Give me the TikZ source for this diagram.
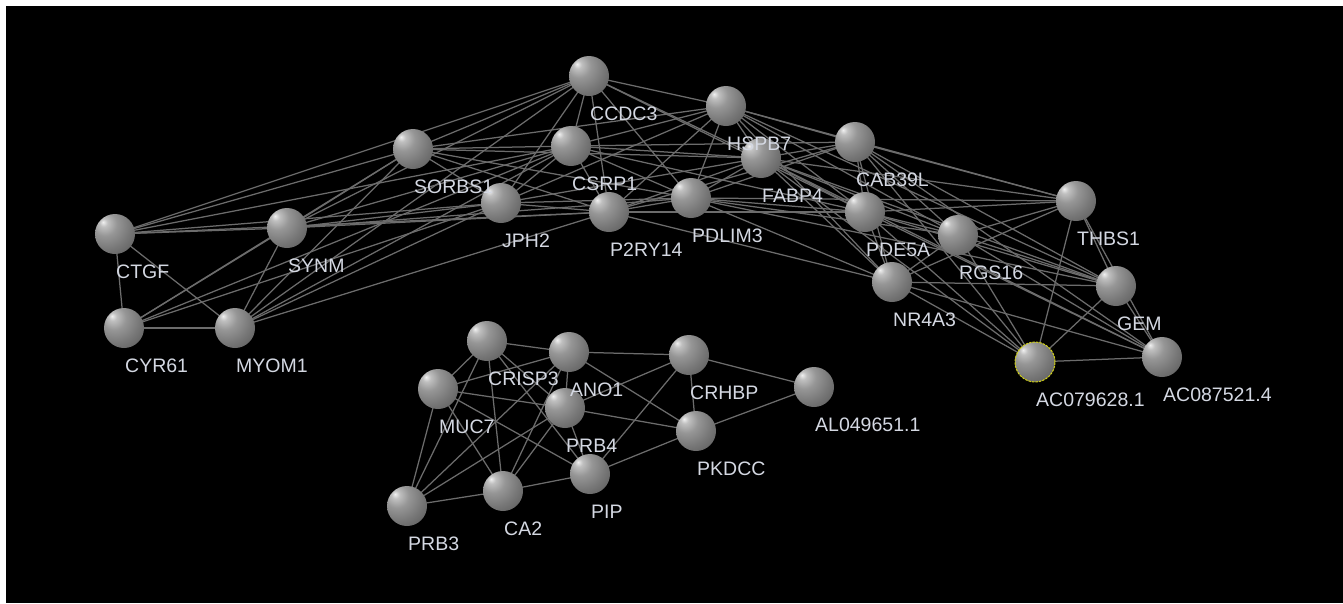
\documentclass[tikz,border=0pt]{standalone}
\usepackage{fontspec}
\setmainfont{Liberation Sans}
\pgfdeclarelayer{bg}
\pgfdeclarelayer{edges}
\pgfsetlayers{bg,edges,main}
\definecolor{hl}{RGB}{240,240,240}
\definecolor{sa}{RGB}{192,192,192}
\definecolor{sb}{RGB}{150,150,150}
\definecolor{sc}{RGB}{118,118,118}
\definecolor{sd}{RGB}{88,88,88}
\definecolor{se}{RGB}{58,58,58}
\definecolor{edgegray}{RGB}{108,108,108}
\definecolor{labelcol}{RGB}{212,216,226}
\definecolor{selyellow}{RGB}{210,210,20}
\pgfdeclareradialshading{sphere}{\pgfpoint{-15bp}{15bp}}{%
  color(0bp)=(hl); color(5bp)=(sa); color(15bp)=(sb);
  color(30bp)=(sc); color(46bp)=(sd); color(62bp)=(se); color(100bp)=(se)}
\tikzset{
  gene/.style={circle, minimum size=40pt, inner sep=0pt, shading=sphere},
  lbl/.style={anchor=base west, inner sep=0pt, text=labelcol,
    font=\fontsize{19.5}{20}\selectfont},
  edge/.style={draw=edgegray, line width=1.25pt},
  picked/.style={draw=selyellow, line width=1pt, dash pattern=on 2.5pt off 1pt}
}
\begin{document}
\begin{tikzpicture}[x=1pt,y=-1pt]
\useasboundingbox (0,0) rectangle (1343,603);
\begin{pgfonlayer}{bg}
  \fill[white] (0,0) rectangle (1343,603);
  \fill[black] (6,6) rectangle (1343,603);
\end{pgfonlayer}

% upper network
\node[gene] (ccdc)  at (589,76)   {};
\node[gene] (hspb)  at (726,106)  {};
\node[gene] (csrp)  at (571,146)  {};
\node[gene] (cab)   at (855,142)  {};
\node[gene] (sorbs) at (413,149)  {};
\node[gene] (fabp)  at (761,158)  {};
\node[gene] (pdlim) at (691,198)  {};
\node[gene] (jph)   at (501,203)  {};
\node[gene] (p2ry)  at (609,212)  {};
\node[gene] (pde)   at (865,212)  {};
\node[gene] (ctgf)  at (115,234)  {};
\node[gene] (synm)  at (287,228)  {};
\node[gene] (thbs)  at (1076,201) {};
\node[gene] (rgs)   at (958,235)  {};
\node[gene] (nr4a)  at (892,282)  {};
\node[gene] (gem)   at (1116,286) {};
\node[gene] (cyr)   at (124,328)  {};
\node[gene] (myom)  at (235,328)  {};
\node[gene] (acb)   at (1162,357) {};
\node[gene] (aca)   at (1035,362) {};
\draw[picked] (aca) circle (20pt);

% lower network
\node[gene] (crisp) at (487,341) {};
\node[gene] (ano)   at (569,352) {};
\node[gene] (crhbp) at (689,355) {};
\node[gene] (al)    at (814,387) {};
\node[gene] (muc)   at (438,389) {};
\node[gene] (prbf)  at (565,408) {};
\node[gene] (pkdcc) at (696,431) {};
\node[gene] (pip)   at (590,474) {};
\node[gene] (ca)    at (503,491) {};
\node[gene] (prbt)  at (407,506) {};

\begin{pgfonlayer}{edges}
\foreach \a/\b in {
  ctgf/cyr, ctgf/myom, ctgf/synm, ctgf/sorbs, ctgf/ccdc, ctgf/csrp, ctgf/jph, ctgf/p2ry,
  cyr/myom, cyr/synm, cyr/sorbs, cyr/jph, cyr/csrp,
  myom/synm, myom/sorbs, myom/ccdc, myom/csrp, myom/jph, myom/p2ry,
  synm/sorbs, synm/ccdc, synm/csrp, synm/jph, synm/p2ry, synm/pdlim,
  sorbs/ccdc, sorbs/csrp, sorbs/jph, sorbs/p2ry, sorbs/pdlim, sorbs/hspb, sorbs/fabp,
  ccdc/csrp, ccdc/jph, ccdc/p2ry, ccdc/pdlim, ccdc/hspb, ccdc/fabp, ccdc/pde,
  csrp/jph, csrp/p2ry, csrp/pdlim, csrp/hspb, csrp/fabp, csrp/cab, csrp/pde,
  jph/p2ry, jph/pdlim, jph/hspb, jph/fabp,
  p2ry/pdlim, p2ry/hspb, p2ry/fabp, p2ry/cab, p2ry/pde, p2ry/nr4a,
  pdlim/hspb, pdlim/fabp, pdlim/cab, pdlim/pde, pdlim/nr4a, pdlim/rgs, pdlim/thbs, pdlim/gem,
  hspb/fabp, hspb/cab, hspb/pde, hspb/rgs, hspb/thbs, hspb/gem, hspb/nr4a,
  fabp/cab, fabp/pde, fabp/nr4a, fabp/rgs, fabp/thbs, fabp/gem, fabp/acb, fabp/aca,
  cab/pde, cab/nr4a, cab/rgs, cab/thbs, cab/gem, cab/aca, cab/acb,
  pde/nr4a, pde/rgs, pde/thbs, pde/gem, pde/aca, pde/acb,
  nr4a/rgs, nr4a/thbs, nr4a/gem, nr4a/aca, nr4a/acb,
  rgs/thbs, rgs/gem, rgs/aca, rgs/acb,
  thbs/gem, thbs/aca, thbs/acb,
  gem/aca, gem/acb, aca/acb,
  crisp/ano, crisp/muc, crisp/prbt, crisp/ca, crisp/pip, crisp/prbf,
  muc/ano, muc/prbf, muc/pip, muc/ca, muc/prbt,
  ano/crhbp, ano/pkdcc, ano/prbf, ano/ca, ano/prbt,
  prbf/crhbp, prbf/pkdcc, prbf/pip, prbf/ca, prbf/prbt,
  crhbp/pkdcc, crhbp/pip, crhbp/al,
  pkdcc/pip, pkdcc/al, pip/ca, ca/prbt}
  \draw[edge] (\a.center) -- (\b.center);
\end{pgfonlayer}

% gene names
\node[lbl] (ccdc-t)  at (590,120)  {CCDC3};
\node[lbl] (hspb-t)  at (727,150)  {HSPB7};
\node[lbl] (csrp-t)  at (572,190)  {CSRP1};
\node[lbl] (cab-t)   at (856,186)  {CAB39L};
\node[lbl] (sorbs-t) at (414,193)  {SORBS1};
\node[lbl] (fabp-t)  at (762,202)  {FABP4};
\node[lbl] (pdlim-t) at (692,242)  {PDLIM3};
\node[lbl] (jph-t)   at (502,247)  {JPH2};
\node[lbl] (p2ry-t)  at (610,256)  {P2RY14};
\node[lbl] (pde-t)   at (866,256)  {PDE5A};
\node[lbl] (ctgf-t)  at (116,278)  {CTGF};
\node[lbl] (synm-t)  at (288,272)  {SYNM};
\node[lbl] (thbs-t)  at (1077,245) {THBS1};
\node[lbl] (rgs-t)   at (959,279)  {RGS16};
\node[lbl] (nr4a-t)  at (893,326)  {NR4A3};
\node[lbl] (gem-t)   at (1117,330) {GEM};
\node[lbl] (cyr-t)   at (125,372)  {CYR61};
\node[lbl] (myom-t)  at (236,372)  {MYOM1};
\node[lbl] (acb-t)   at (1163,401) {AC087521.4};
\node[lbl] (aca-t)   at (1036,406) {AC079628.1};
\node[lbl] (crisp-t) at (488,385)  {CRISP3};
\node[lbl] (ano-t)   at (570,396)  {ANO1};
\node[lbl] (crhbp-t) at (690,399)  {CRHBP};
\node[lbl] (al-t)    at (815,431)  {AL049651.1};
\node[lbl] (muc-t)   at (439,433)  {MUC7};
\node[lbl] (prbf-t)  at (566,452)  {PRB4};
\node[lbl] (pkdcc-t) at (697,475)  {PKDCC};
\node[lbl] (pip-t)   at (591,518)  {PIP};
\node[lbl] (ca-t)    at (504,535)  {CA2};
\node[lbl] (prbt-t)  at (408,550)  {PRB3};
\end{tikzpicture}
\end{document}
